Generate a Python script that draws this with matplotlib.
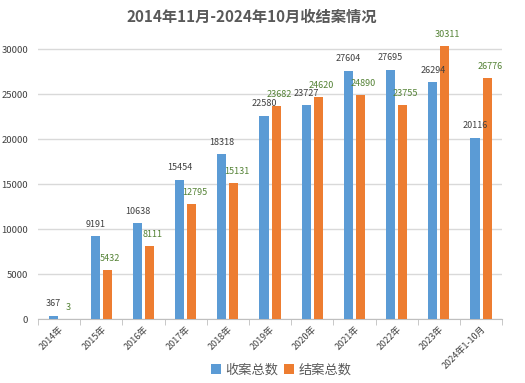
import matplotlib
matplotlib.use("Agg")
import matplotlib.pyplot as plt
import numpy as np

plt.rcParams['font.family'] = ['Noto Sans CJK SC', 'DejaVu Sans']

categories = ["2014年", "2015年", "2016年", "2017年", "2018年", "2019年",
              "2020年", "2021年", "2022年", "2023年", "2024年1-10月"]
received = [367, 9191, 10638, 15454, 18318, 22580, 23727, 27604, 27695, 26294, 20116]
closed = [3, 5432, 8111, 12795, 15131, 23682, 24620, 24890, 23755, 30311, 26776]
series_names = ["收案总数", "结案总数"]
title = "2014年11月-2024年10月收结案情况"

blue = "#5B9BD5"
orange = "#ED7D31"
green = "#548235"
gray = "#595959"

fig = plt.figure(figsize=(5.25, 3.83), dpi=100)
ax = fig.add_axes([0.0724, 0.167, 0.884, 0.752])

x = np.arange(len(categories))
w = 0.215
off = 0.143
b1 = ax.bar(x - off, received, w, color=blue, label=series_names[0], zorder=3)
b2 = ax.bar(x + off, closed, w, color=orange, label=series_names[1], zorder=3)

# value labels above the bars
for xi, v in zip(x, received):
    ax.text(xi - off, v + 850, str(v), ha="center", va="bottom", fontsize=6.5, color="#404040")
for xi, v in zip(x, closed):
    ax.text(xi + off + 0.07, v + 800, str(v), ha="center", va="bottom", fontsize=6.5, color=green)

ax.set_xlim(-0.5, len(categories) - 0.5)
ax.set_ylim(0, 32000)
ax.set_yticks(range(0, 30001, 5000))
ax.tick_params(axis="y", length=0, labelsize=6.8, labelcolor="#404040", pad=7)
ax.yaxis.grid(True, color="#d9d9d9", linewidth=1, zorder=0)

ax.set_xticks(x)
ax.set_xticklabels(categories, rotation=45, ha="right", rotation_mode="anchor",
                   fontsize=6.5, color="#404040")
ax.tick_params(axis="x", length=0, pad=4)
ax.set_xticks(np.arange(-0.5, len(categories)), minor=True)
ax.tick_params(axis="x", which="minor", length=4, color="#bfbfbf")

for s in ["top", "right", "left"]:
    ax.spines[s].set_visible(False)
ax.spines["bottom"].set_color("#bfbfbf")

fig.text(252 / 525, 0.956, title, ha="center", va="center", fontsize=11,
         fontweight="bold", color=gray)

fig.legend(handles=[b1, b2], loc="center", bbox_to_anchor=(281 / 525, 1 - 370 / 383),
           ncol=2, frameon=False, fontsize=9.5, handlelength=0.8, handleheight=0.8,
           handletextpad=0.3, columnspacing=0.4, labelcolor=gray)

fig.savefig("out.png", dpi=100)
